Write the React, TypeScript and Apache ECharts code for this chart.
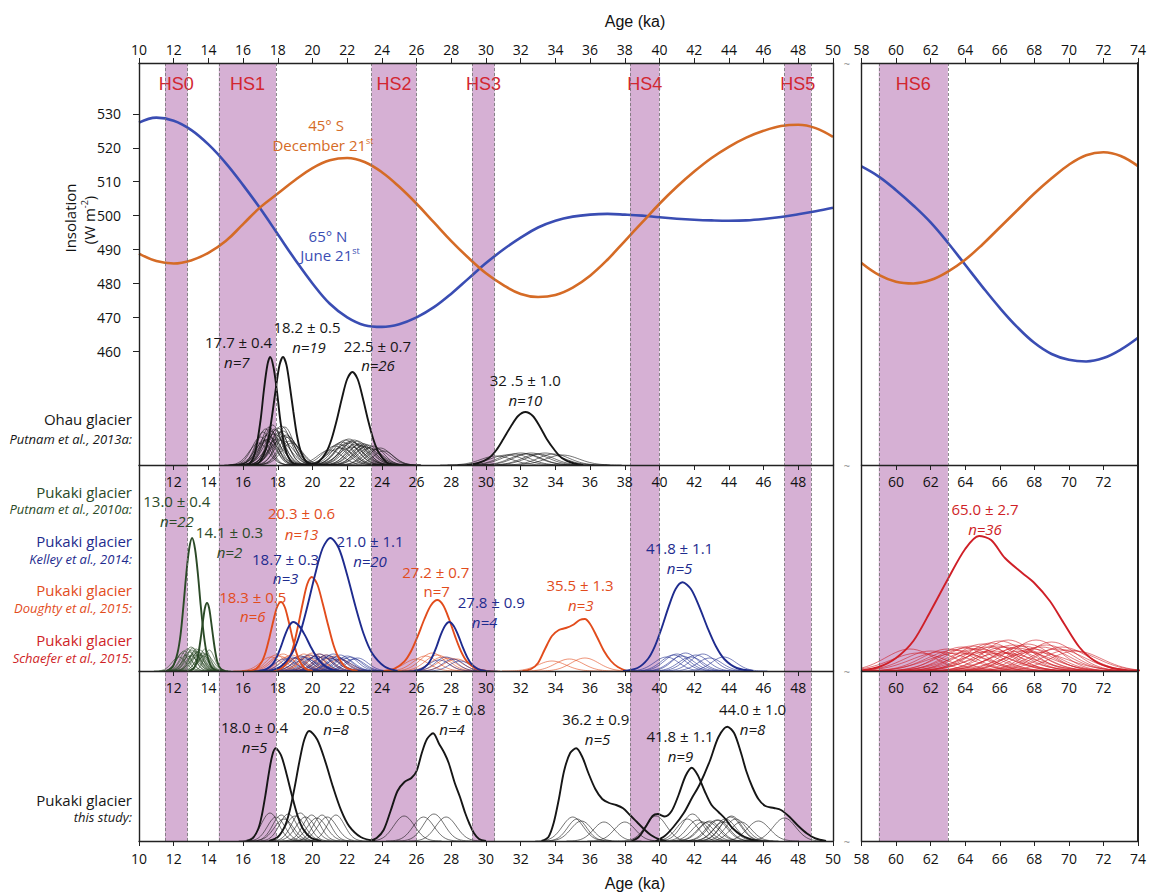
import React, { useEffect, useRef } from "react";
import * as echarts from "echarts";

// ---------------- DATA ----------------
// Insolation (W m-2), left panel 10–50 ka, right panel 58–74 ka (1 ka steps)
const insolAgeLeft = [10,11,12,13,14,15,16,17,18,19,20,21,22,23,24,25,26,27,28,29,30,31,32,33,34,35,36,37,38,39,40,41,42,43,44,45,46,47,48,49,50];
const insol65NLeft = [527.4,528.9,528.0,525.3,521.0,515.5,509.0,502.0,494.5,487.0,480.0,474.0,470.0,467.7,467.2,468.0,470.0,473.0,477.0,481.5,486.0,490.0,493.5,496.5,498.5,499.7,500.3,500.5,500.3,500.0,499.5,499.1,498.8,498.6,498.5,498.6,499.0,499.6,500.4,501.3,502.3];
const insol45SLeft = [488.8,486.6,485.9,486.8,489.0,492.5,497.5,502.5,506.5,510.5,514.0,516.3,517.0,515.8,512.8,508.5,503.5,498.0,492.5,487.5,483.0,479.5,476.9,476.0,476.6,478.8,482.3,487.0,492.5,498.0,503.5,508.5,513.0,517.0,520.3,523.0,525.0,526.4,526.8,525.8,523.2];
const insolAgeRight = [58,59,60,61,62,63,64,65,66,67,68,69,70,71,72,73,74];
const insol65NRight = [514.5,511.5,507.5,503.0,498.0,492.0,485.5,479.0,472.8,467.2,462.5,459.2,457.5,457.0,458.0,460.5,464.0];
const insol45SRight = [486.0,482.5,480.5,480.0,481.0,483.5,487.0,491.5,496.5,501.5,506.5,511.0,515.0,517.8,518.7,517.6,514.6];
const insolTicks = [460,470,480,490,500,510,520,530];

// Heinrich stadials (ka)
const hsNames = ["HS0","HS1","HS2","HS3","HS4","HS5","HS6"];
const hsStart = [11.5,14.6,23.4,29.2,38.3,47.2,59.0];
const hsEnd = [12.8,17.9,26.0,30.5,40.0,48.75,63.0];

// Summary probability curves [age ka, relative probability]
const ohau177 = [[16.0,0],[16.4,2],[16.7,13],[17.0,44],[17.2,75],[17.4,100],[17.56,108],[17.75,98],[17.95,74],[18.15,44],[18.4,18],[18.7,5],[19.0,1],[19.4,0]];
const ohau182 = [[16.7,0],[17.0,4],[17.3,15],[17.5,30],[17.7,53],[17.9,78],[18.1,100],[18.3,108],[18.5,100],[18.7,78],[18.9,53],[19.1,30],[19.3,15],[19.6,4],[20.0,0]];
const ohau225 = [[19.9,0],[20.35,3],[20.8,13],[21.1,26],[21.4,45],[21.7,67],[22.0,86],[22.3,93],[22.6,86],[22.9,67],[23.2,45],[23.5,26],[23.8,13],[24.25,3],[24.7,0]];
const ohau325 = [[28.9,0],[29.55,2],[30.17,7],[30.6,15],[31.0,26],[31.43,38.5],[31.85,49],[32.27,53],[32.7,49],[33.1,38.5],[33.5,26],[33.95,15],[34.37,7],[35.0,2],[35.6,0]];
const putnam130 = [[11.6,0],[11.95,4.5],[12.22,18],[12.4,37],[12.56,65],[12.72,96],[12.89,122],[13.06,133],[13.23,122],[13.4,96],[13.56,65],[13.73,37],[13.9,18],[14.16,4.5],[14.5,0]];
const putnam141 = [[12.9,0],[13.14,2.3],[13.32,9],[13.44,19],[13.56,33],[13.68,49],[13.8,63],[13.92,68],[14.04,63],[14.16,49],[14.28,33],[14.4,19],[14.52,9],[14.7,2.3],[14.95,0]];
const doughty183 = [[16.3,0],[16.75,2.3],[17.08,9.3],[17.3,19],[17.52,33.6],[17.74,50],[17.96,64],[18.18,69],[18.4,64],[18.62,50],[18.84,33.6],[19.06,19],[19.28,9.3],[19.6,2.3],[20.0,0]];
const doughty203 = [[17.7,0],[18.26,3.2],[18.66,12.7],[18.92,26],[19.18,46],[19.44,68],[19.7,87],[19.96,94],[20.27,87],[20.58,68],[20.9,46],[21.21,26],[21.52,12.7],[21.96,3.2],[22.6,0]];
const doughty272 = [[24.1,0],[24.73,2.4],[25.3,9.6],[25.68,19.7],[26.06,34.6],[26.44,51.5],[26.82,65.5],[27.2,71],[27.54,65.5],[27.88,51.5],[28.22,34.6],[28.56,19.7],[28.9,9.6],[29.41,2.4],[30.0,0]];
const doughty355 = [[32.1,0],[32.6,2],[33.0,8],[33.4,22],[33.8,35],[34.2,41],[34.6,43],[35.0,46],[35.4,51],[35.7,52],[36.0,47],[36.4,34],[36.8,20],[37.2,10],[37.6,4],[38.1,0]];
const kelley187 = [[16.9,0],[17.33,1.7],[17.69,6.6],[17.93,13.6],[18.17,23.8],[18.41,35.6],[18.65,45],[18.89,49],[19.23,45],[19.57,35.6],[19.91,23.8],[20.25,13.6],[20.59,6.6],[21.09,1.7],[21.7,0]];
const kelley210 = [[17.5,0],[18.17,4.5],[18.83,18],[19.27,37],[19.71,65],[20.15,96.5],[20.59,123],[21.03,133],[21.51,123],[21.99,96.5],[22.47,65],[22.95,37],[23.43,18],[24.15,4.5],[24.9,0]];
const kelley278 = [[25.85,0],[26.27,1.7],[26.64,6.6],[26.89,13.6],[27.14,23.8],[27.38,35.6],[27.63,45],[27.88,49],[28.14,45],[28.4,35.6],[28.66,23.8],[28.92,13.6],[29.18,6.6],[29.57,1.7],[30.0,0]];
const kelley418 = [[37.9,0],[38.73,3],[39.33,12],[39.73,24.7],[40.13,43.2],[40.53,64.4],[40.93,82],[41.33,88.7],[41.81,82],[42.29,64.4],[42.77,43.2],[43.25,24.7],[43.73,12],[44.45,3],[45.4,0]];
const schaefer650 = [[58,0.5],[59,4],[60,13],[61,30],[62,60],[63,92],[64,122],[64.8,135],[65.5,131],[66.3,113],[67.3,98],[68.0,88],[68.9,70],[69.7,48],[70.6,24],[71.5,10],[72.5,3],[73.5,0.6],[74,0.3]];
const study180 = [[16.2,0],[16.58,3.2],[16.88,12.5],[17.08,25.8],[17.28,45.2],[17.48,67.3],[17.68,85.6],[17.88,92.7],[18.19,85.6],[18.5,67.3],[18.82,45.2],[19.13,25.8],[19.44,12.5],[19.91,3.2],[20.5,0]];
const study200 = [[17.5,0],[17.99,3.7],[18.41,14.9],[18.69,30.6],[18.97,53.6],[19.25,79.9],[19.53,101.5],[19.81,110],[20.27,101.5],[20.73,79.9],[21.19,53.6],[21.65,30.6],[22.11,14.9],[22.8,3.7],[23.6,0]];
const study267 = [[23.3,0],[23.7,3],[24.1,11],[24.5,30],[24.9,50],[25.3,59],[25.7,63],[26.0,70],[26.3,88],[26.6,102],[26.95,107.7],[27.3,97],[27.6,88],[27.85,78],[28.2,58],[28.5,44],[28.8,28],[29.05,17],[29.3,8],[29.6,2],[30.0,0]];
const study362 = [[33.2,0],[33.6,4],[33.9,18],[34.2,42],[34.5,70],[34.85,88],[35.2,92.7],[35.55,84],[35.9,68],[36.3,52],[36.7,42],[37.1,38],[37.5,36],[37.9,32.7],[38.3,26],[38.7,19],[39.1,12],[39.5,6],[40.0,1.5],[40.4,0]];
const study418 = [[38.4,0],[38.8,4],[39.2,14],[39.6,25],[39.9,27],[40.3,24.5],[40.7,30],[41.1,46],[41.5,65],[41.86,73.3],[42.2,66],[42.6,50],[43.0,36],[43.4,29],[43.8,22],[44.2,13],[44.7,6],[45.2,2],[45.7,0]];
const study440 = [[39.8,0],[40.3,5],[40.8,14],[41.4,28],[41.9,44],[42.3,56],[42.9,80],[43.4,104],[43.91,114.3],[44.3,108],[44.7,88],[45.0,70],[45.35,54],[45.7,42],[46.1,35],[46.6,33],[47.0,31],[47.5,24],[48.0,15],[48.5,7.5],[49.0,2.5],[49.6,0]];

// Individual boulder ages: [age ka, 1 sigma ka, relative peak probability]
const ohauAgesLGM = [[17.0,0.5,28],[17.15,0.45,33],[17.3,0.5,36],[17.4,0.55,30],[17.5,0.45,38],[17.6,0.5,34],[17.7,0.5,40],[17.8,0.6,31],[17.3,0.6,25],[17.9,0.5,35],[18.0,0.55,37],[18.1,0.5,33],[18.2,0.55,39],[18.3,0.6,34],[18.4,0.5,38],[18.5,0.6,30],[18.0,0.7,26],[18.6,0.55,28],[18.7,0.6,24],[17.6,0.65,27],[18.35,0.65,29],[18.8,0.6,22],[16.9,0.55,22],[17.8,0.45,36],[18.2,0.7,25],[17.45,0.6,26]];
const ohauAges225 = [[21.0,0.7,15],[21.3,0.7,19],[21.5,0.65,21],[21.7,0.7,23],[21.8,0.6,20],[21.9,0.7,25],[22.0,0.65,22],[22.1,0.7,26],[22.2,0.6,24],[22.3,0.7,23],[22.4,0.65,25],[22.5,0.7,21],[22.6,0.6,24],[22.7,0.7,20],[22.8,0.65,22],[22.9,0.7,19],[23.0,0.6,21],[23.1,0.7,18],[23.2,0.65,20],[23.3,0.7,17],[23.5,0.6,19],[23.7,0.7,16],[23.9,0.65,17],[21.6,0.75,17],[22.25,0.75,18],[24.1,0.6,14]];
const ohauAges325 = [[30.6,0.9,9],[31.2,0.95,10],[31.6,0.9,11],[32.0,1.0,12],[32.3,0.9,11],[32.6,0.95,12],[33.0,0.9,11],[33.4,1.0,12],[33.9,0.9,11],[34.4,0.95,10]];
const putnamAges = [[12.3,0.4,14],[12.5,0.35,18],[12.6,0.4,20],[12.7,0.35,16],[12.8,0.4,22],[12.9,0.35,19],[13.0,0.4,24],[13.05,0.35,21],[13.1,0.4,23],[13.2,0.35,18],[13.25,0.4,20],[13.3,0.35,22],[13.4,0.4,19],[13.45,0.35,17],[13.5,0.4,21],[13.6,0.35,16],[13.7,0.4,18],[13.75,0.35,15],[13.85,0.4,17],[12.95,0.45,15],[13.15,0.45,16],[13.35,0.45,14],[13.8,0.3,22],[14.05,0.3,21]];
const doughtyAges = [[17.6,0.6,14],[17.9,0.55,16],[18.1,0.6,15],[18.3,0.6,17],[18.5,0.55,14],[18.8,0.6,16],[19.1,0.6,13],[19.3,0.6,15],[19.5,0.55,17],[19.7,0.6,14],[19.9,0.6,16],[20.0,0.6,18],[20.2,0.55,15],[20.4,0.6,17],[20.6,0.6,14],[20.8,0.6,16],[21.0,0.6,13],[21.3,0.6,15],[21.6,0.6,12],[26.0,0.7,12],[26.5,0.7,15],[26.9,0.7,18],[27.2,0.7,16],[27.5,0.7,14],[27.9,0.7,13],[28.3,0.7,12],[33.8,0.8,10],[34.8,0.8,12],[35.7,0.8,13]];
const kelleyAges = [[18.4,0.6,12],[18.8,0.6,14],[19.0,0.6,13],[19.3,0.6,15],[19.5,0.6,14],[19.8,0.6,16],[20.0,0.6,13],[20.2,0.6,15],[20.4,0.6,17],[20.6,0.6,14],[20.8,0.6,16],[21.0,0.6,15],[21.2,0.6,17],[21.4,0.6,14],[21.6,0.6,16],[21.8,0.6,13],[22.0,0.6,15],[22.2,0.6,14],[22.4,0.6,12],[22.6,0.6,13],[19.6,0.7,12],[20.9,0.7,13],[21.5,0.7,12],[27.3,0.6,11],[27.7,0.6,14],[28.1,0.6,12],[28.5,0.6,10],[40.4,0.7,14],[40.8,0.7,16],[41.0,0.7,17],[41.3,0.7,15],[41.5,0.7,18],[41.8,0.7,14],[42.1,0.7,16],[42.5,0.7,17],[42.9,0.7,13],[43.7,0.7,14]];
const schaeferAges = [[60.8,1.4,22],[61.3,1.6,18],[62.0,1.5,20],[62.6,1.7,19],[63.0,1.5,22],[63.4,1.6,21],[63.8,1.4,24],[64.1,1.6,23],[64.4,1.5,25],[64.7,1.7,22],[65.0,1.5,27],[65.2,1.6,24],[65.5,1.4,28],[65.8,1.6,25],[66.0,1.5,30],[66.3,1.7,24],[66.5,1.4,31],[66.8,1.6,26],[67.0,1.5,23],[67.3,1.6,25],[67.6,1.4,27],[67.9,1.5,22],[68.1,1.4,31],[68.4,1.6,24],[68.7,1.5,26],[69.0,1.4,29],[69.3,1.6,22],[69.6,1.5,24],[70.0,1.6,21],[70.4,1.5,20],[64.9,1.8,19],[65.6,1.8,20],[66.2,1.9,18],[63.6,1.8,18],[67.2,1.8,20],[68.0,1.9,19]];
const studyAges = [[17.55,0.5,28],[17.9,0.5,24],[18.2,0.5,26],[18.6,0.5,27],[18.35,0.55,22],[19.0,0.55,25],[19.3,0.5,28],[19.6,0.55,24],[19.95,0.5,26],[20.25,0.55,23],[20.55,0.5,26],[20.85,0.55,24],[21.35,0.5,26],[25.28,0.6,25],[26.4,0.6,24],[27.0,0.6,27],[27.7,0.6,24],[35.0,0.6,24],[35.25,0.55,22],[35.5,0.6,20],[36.8,0.6,19],[38.0,0.6,19],[39.8,0.6,25],[41.6,0.6,22],[41.9,0.6,27],[42.2,0.6,21],[42.5,0.6,19],[42.9,0.6,20],[43.3,0.6,21],[43.7,0.6,19],[44.1,0.6,24],[42.8,0.6,19],[43.4,0.6,21],[43.8,0.6,22],[44.15,0.6,25],[44.4,0.6,22],[44.7,0.6,19],[45.7,0.65,20],[47.2,0.65,23]];

// Summary age texts
const summaryAge = ["17.7 ± 0.4","18.2 ± 0.5","22.5 ± 0.7","32 .5 ± 1.0","13.0 ± 0.4","14.1 ± 0.3","20.3 ± 0.6","21.0 ± 1.1","18.7 ± 0.3","18.3 ± 0.5","27.2 ± 0.7","27.8 ± 0.9","35.5 ± 1.3","41.8 ± 1.1","65.0 ± 2.7","18.0 ± 0.4","20.0 ± 0.5","26.7 ± 0.8","36.2 ± 0.9","41.8 ± 1.1","44.0 ± 1.0"];
const summaryN = ["n=7","n=19","n=26","n=10","n=22","n=2","n=13","n=20","n=3","n=6","n=7","n=4","n=3","n=5","n=36","n=5","n=8","n=4","n=5","n=9","n=8"];
const rowTitles = ["Ohau glacier","Pukaki glacier","Pukaki glacier","Pukaki glacier","Pukaki glacier","Pukaki glacier"];
const rowSources = ["Putnam et al., 2013a:","Putnam et al., 2010a:","Kelley et al., 2014:","Doughty et al., 2015:","Schaefer et al., 2015:","this study:"];

// ---------------- STYLE / LAYOUT ----------------
const C = {
  black: "#161616", green: "#2b4a27", blue: "#1e2b8e", orange: "#e24c1c", red: "#cf1f27",
  ins65: "#3a4db3", ins45: "#d56b26", hs: "#d6b0d4", hsText: "#d22630",
};
const summaryColor = ["black","black","black","black","green","green","orange","blue","blue","orange","orange","blue","orange","blue","red","black","black","black","black","black","black"];
const summaryNItalic = [1,1,1,1,1,1,1,1,1,1,0,1,1,1,1,1,1,1,1,1,1];
// [x, y of age text, x, y of n text]
const summaryPos = [
  [238.6,341.7,236.8,361.7],[307,327.3,309,346.7],[377.4,345.7,378,365],[525.3,380,525.3,400],
  [176.8,500.7,176.8,521],[229.4,531.7,229.4,551.7],[301.5,513.3,301.5,534],[370,541,370,560.7],
  [285.6,559,285.6,578.3],[252.7,596.7,252.7,616],[435.8,571.7,436.6,590.7],[491.3,601.7,484.6,621.7],
  [580,585,580.7,605],[679.6,548.3,679.6,568.3],[985,509.3,985,529],
  [254.5,726.7,254.5,746.7],[336,709,336,729.3],[452,709,452,729.3],[595.7,719.3,597.6,739.3],
  [680,736,680.4,756],[752.6,709.3,752.6,729.3],
];
const rowColor = ["black","green","blue","orange","red","black"];
const rowLabelY = [[419.3,439.3],[491.7,509.3],[541,559.3],[590,608.3],[640,658.3],[800,817.3]];

const FONT = "'Open Sans', 'Noto Sans', sans-serif";
const PL = { left: 139, width: 694 };
const PR = { left: 861.5, width: 276.5 };
const ROWS = [{ top: 63, height: 402 }, { top: 465, height: 206 }, { top: 671, height: 170 }];

function camel(list: number[][]) {
  const out: number[][] = [];
  list.forEach(([mu, s, h]) => {
    for (let k = -3.6; k <= 3.6001; k += 0.15) out.push([mu + k * s, h * Math.exp(-0.5 * k * k)]);
    out.push([NaN, NaN]);
  });
  return out;
}

function buildOption() {
  const grids: any[] = [
    { ...PL, top: 63, height: 778 },
    { ...PR, top: 63, height: 778 },
    ...ROWS.map((r) => ({ ...PL, ...r })),
    ...ROWS.map((r) => ({ ...PR, ...r })),
  ].map((g) => ({ ...g, containLabel: false, outerBoundsMode: "none", show: false }));

  const lineSt = (w = 1.4) => ({ color: "#222", width: w });
  const hiddenX = (gi: number, min: number, max: number) => ({ type: "value", gridIndex: gi, min, max, show: false });
  const hiddenY = (gi: number) => ({ type: "value", gridIndex: gi, min: 0, max: 1, show: false });
  const xa = (gi: number, min: number, max: number, position: string, o: any = {}) => ({
    type: "value", gridIndex: gi, min, max, interval: 2, position, z: 10,
    splitLine: { show: false },
    axisLine: { show: !!o.line, onZero: false, lineStyle: lineSt() },
    axisTick: { show: !!o.ticks, inside: !!o.inside, length: 5, lineStyle: { color: "#222", width: 1 } },
    axisLabel: {
      show: !!o.labels, inside: !!o.inside, margin: o.margin ?? 7, fontSize: 14, color: "#111",
      fontFamily: FONT, showMinLabel: o.ends ?? true, showMaxLabel: o.ends ?? true,
    },
  });
  const ya = (gi: number, min: number, max: number, position: string, o: any = {}) => ({
    type: "value", gridIndex: gi, min, max, position, z: 10,
    splitLine: { show: false },
    axisLine: { show: true, onZero: false, lineStyle: lineSt(o.w ?? 1.4) },
    axisTick: { show: !!o.ticks, length: 6, customValues: o.ticks, lineStyle: { color: "#222", width: 1 } },
    axisLabel: { show: !!o.ticks, customValues: o.ticks, margin: 18, fontSize: 14, color: "#111", fontFamily: FONT },
  });

  const xAxis = [
    hiddenX(0, 10, 50), hiddenX(1, 58, 74),
    xa(2, 10, 50, "top", { line: true, ticks: true, labels: true, margin: 7 }),
    xa(2, 10, 50, "bottom", { line: true }),
    xa(3, 10, 50, "top", { ticks: true, labels: true, inside: true, ends: false, margin: 9 }),
    xa(3, 10, 50, "bottom", { line: true }),
    xa(4, 10, 50, "top", { ticks: true, labels: true, inside: true, ends: false, margin: 9 }),
    xa(4, 10, 50, "bottom", { line: true, ticks: true, labels: true, margin: 10 }),
    xa(5, 58, 74, "top", { line: true, ticks: true, labels: true, margin: 7 }),
    xa(5, 58, 74, "bottom", { line: true }),
    xa(6, 58, 74, "top", { ticks: true, labels: true, inside: true, ends: false, margin: 9 }),
    xa(6, 58, 74, "bottom", { line: true }),
    xa(7, 58, 74, "top", { ticks: true, labels: true, inside: true, ends: false, margin: 9 }),
    xa(7, 58, 74, "bottom", { line: true, ticks: true, labels: true, margin: 10 }),
  ];
  const yAxis = [
    hiddenY(0), hiddenY(1),
    ya(2, 426.47, 545, "left", { ticks: insolTicks }),
    ya(2, 0, 402, "right"),
    ya(3, 0, 206, "left"),
    ya(3, 0, 1, "right"),
    ya(4, 0, 170, "left"),
    ya(4, 0, 1, "right"),
    ya(5, 426.47, 545, "left"),
    ya(5, 0, 1, "right", { w: 2 }),
    ya(6, 0, 206, "left"),
    ya(6, 0, 1, "right", { w: 2 }),
    ya(7, 0, 170, "left"),
    ya(7, 0, 1, "right", { w: 2 }),
  ];

  const band = (xi: number, idx: number[]) => ({
    type: "line", xAxisIndex: xi, yAxisIndex: xi, data: [[xi === 0 ? 10 : 58, -1]], symbol: "none",
    lineStyle: { opacity: 0 }, silent: true, z: 1,
    markArea: {
      silent: true, itemStyle: { color: C.hs },
      label: { show: true, position: "insideTop", distance: 12, formatter: "{b}", color: C.hsText, fontSize: 18, fontFamily: "'Liberation Sans', Arial, sans-serif" },
      data: idx.map((i) => [{ name: hsNames[i], xAxis: hsStart[i] }, { xAxis: hsEnd[i] }]),
    },
    markLine: {
      silent: true, symbol: ["none", "none"], label: { show: false },
      lineStyle: { type: [3, 2], color: "#707070", width: 0.8 },
      data: idx.flatMap((i) => [{ xAxis: hsStart[i] }, { xAxis: hsEnd[i] }]),
    },
  });

  const thin = (list: number[][], xi: number, yi: number, color: string) => ({
    type: "line", xAxisIndex: xi, yAxisIndex: yi, data: camel(list), symbol: "none", showSymbol: false,
    connectNulls: false, silent: true, z: 3, lineStyle: { width: 0.6, color },
  });
  const thick = (data: number[][], xi: number, yi: number, color: string) => ({
    type: "line", xAxisIndex: xi, yAxisIndex: yi, data, symbol: "none", showSymbol: false,
    smooth: 0.3, silent: true, z: 4, lineStyle: { width: 1.9, color },
  });
  const insol = (ages: number[], vals: number[], xi: number, yi: number, color: string) => ({
    type: "line", xAxisIndex: xi, yAxisIndex: yi, data: ages.map((a, i) => [a, vals[i]]), symbol: "none",
    smooth: 0.4, silent: true, z: 4, lineStyle: { width: 2.6, color },
  });

  const series: any[] = [
    band(0, [0, 1, 2, 3, 4, 5]),
    band(1, [6]),
    insol(insolAgeLeft, insol65NLeft, 2, 2, C.ins65),
    insol(insolAgeLeft, insol45SLeft, 2, 2, C.ins45),
    insol(insolAgeRight, insol65NRight, 8, 8, C.ins65),
    insol(insolAgeRight, insol45SRight, 8, 8, C.ins45),
    // Ohau
    thin(ohauAgesLGM, 2, 3, C.black), thin(ohauAges225, 2, 3, C.black), thin(ohauAges325, 2, 3, C.black),
    thick(ohau177, 2, 3, C.black), thick(ohau182, 2, 3, C.black), thick(ohau225, 2, 3, C.black), thick(ohau325, 2, 3, C.black),
    // Pukaki previous studies
    thin(putnamAges, 4, 4, C.green), thin(doughtyAges, 4, 4, C.orange), thin(kelleyAges, 4, 4, C.blue),
    thick(putnam130, 4, 4, C.green), thick(putnam141, 4, 4, C.green),
    thick(doughty183, 4, 4, C.orange), thick(doughty203, 4, 4, C.orange), thick(doughty272, 4, 4, C.orange), thick(doughty355, 4, 4, C.orange),
    thick(kelley187, 4, 4, C.blue), thick(kelley210, 4, 4, C.blue), thick(kelley278, 4, 4, C.blue), thick(kelley418, 4, 4, C.blue),
    thin(schaeferAges, 10, 10, C.red), thick(schaefer650, 10, 10, C.red),
    // this study
    thin(studyAges, 6, 6, C.black),
    thick(study180, 6, 6, C.black), thick(study200, 6, 6, C.black), thick(study267, 6, 6, C.black),
    thick(study362, 6, 6, C.black), thick(study418, 6, 6, C.black), thick(study440, 6, 6, C.black),
  ];

  const txt = (text: string, x: number, y: number, o: any = {}) => ({
    type: "text", x, y, silent: true, z: 20, rotation: o.rot ?? 0,
    style: {
      text, fill: o.c ?? "#111", fontSize: o.s ?? 15, fontFamily: o.f ?? FONT, fontStyle: o.i ? "italic" : "normal",
      align: o.a ?? "center", verticalAlign: "middle", lineHeight: o.lh, rich: o.rich,
    },
  });
  const colorOf = (k: string) => (C as any)[k];
  const graphic: any[] = [];
  summaryAge.forEach((t, i) => {
    const [x1, y1, x2, y2] = summaryPos[i];
    const c = colorOf(summaryColor[i]);
    graphic.push(txt(t, x1, y1, { c }));
    graphic.push(txt(summaryN[i], x2, y2, { c, i: summaryNItalic[i] === 1 }));
  });
  rowTitles.forEach((t, i) => {
    const c = colorOf(rowColor[i]);
    graphic.push(txt(t, 132, rowLabelY[i][0], { c, a: "right", s: 15 }));
    graphic.push(txt(rowSources[i], 132, rowLabelY[i][1], { c, a: "right", s: 13, i: true }));
  });
  const supRich = (c: string) => ({ sup: { fontSize: 9, verticalAlign: "top", fill: c, fontFamily: FONT, lineHeight: 18 } });
  graphic.push(txt("45° S", 326, 125, { c: C.ins45, s: 15 }));
  graphic.push(txt("December 21{sup|st}", 323, 145, { c: C.ins45, s: 15, lh: 18, rich: supRich(C.ins45) }));
  graphic.push(txt("65° N", 328, 236, { c: C.ins65, s: 15 }));
  graphic.push(txt("June 21{sup|st}", 330, 255, { c: C.ins65, s: 15, lh: 18, rich: supRich(C.ins65) }));
  graphic.push(txt("Insolation", 70, 218, { s: 15, rot: Math.PI / 2 }));
  graphic.push(txt("(W m{sup|-2})", 89, 220, { s: 15, rot: Math.PI / 2, lh: 18, rich: supRich("#111") }));
  graphic.push(txt("Age (ka)", 635, 21, { s: 16, f: "'Liberation Sans', Arial, sans-serif" }));
  graphic.push(txt("Age (ka)", 635, 883, { s: 16, f: "'Liberation Sans', Arial, sans-serif" }));
  [63, 465, 671, 841].forEach((y) => graphic.push(txt("~", 847, y, { c: "#888", s: 11 })));

  return {
    animation: false,
    backgroundColor: "#ffffff",
    grid: grids,
    xAxis,
    yAxis,
    series,
    graphic,
  };
}

export default function App() {
  const ref = useRef<HTMLDivElement>(null);
  useEffect(() => {
    const chart = echarts.init(ref.current as HTMLDivElement, null, { renderer: "svg" });
    chart.setOption(buildOption() as any);
    return () => chart.dispose();
  }, []);
  return <div ref={ref} style={{ position: "absolute", left: 0, top: 0, width: 1150, height: 895, background: "#fff" }} />;
}
